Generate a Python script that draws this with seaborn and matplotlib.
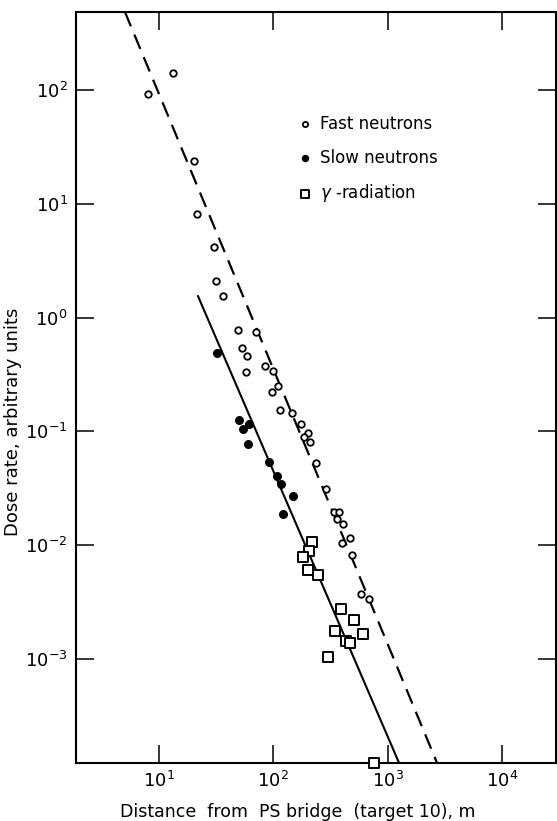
import numpy as np
import pandas as pd
import matplotlib
matplotlib.use("Agg")
import matplotlib.pyplot as plt
import seaborn as sns

# values (distance in m, dose rate in arbitrary units)
fast_x = [7.96, 13.3, 20.4, 21.4, 30.1, 31.8, 36.1, 48.9, 70.6, 53.6, 58.9, 58.1,
          84.5, 99.4, 110.6, 96.9, 114.5, 146.6, 175.8, 201.5, 185.8, 209.5, 233.9,
          289, 336.5, 373.6, 358.9, 407.6, 472, 401.8, 483, 582, 687]
fast_y = [92.8, 140, 23.9, 8.09, 4.15, 2.10, 1.54, 0.778, 0.743, 0.537, 0.460, 0.331,
          0.376, 0.340, 0.251, 0.222, 0.153, 0.146, 0.116, 0.0959, 0.0884, 0.0811,
          0.0531, 0.031, 0.0194, 0.0197, 0.0169, 0.0153, 0.0116, 0.0104, 0.00826,
          0.00371, 0.00335]

slow_x = [32.4, 50.1, 54.7, 61.1, 60.4, 92.3, 107.1, 116.7, 149.6, 120.3]
slow_y = [0.485, 0.126, 0.104, 0.115, 0.0771, 0.0538, 0.0409, 0.0344, 0.0272, 0.0187]

gamma_x = [219.3, 206.4, 183, 202.3, 246, 391, 508, 347, 605, 430, 472, 303, 765]
gamma_y = [0.0106, 0.00895, 0.00783, 0.00602, 0.00545, 0.00273, 0.0022, 0.00176,
           0.00166, 0.00145, 0.00137, 0.00105, 1.22e-4]

# fitted lines (end points)
fast_fit_x = [5.04, 2704]
fast_fit_y = [484, 1.22e-4]
slow_fit_x = [21.9, 1259]
slow_fit_y = [1.55, 1.22e-4]

x_ticks = [1e1, 1e2, 1e3, 1e4]
y_ticks = [1e-3, 1e-2, 1e-1, 1e0, 1e1, 1e2]

sns.set_style("ticks")
plt.rcParams['font.family'] = ['DejaVu Sans']
plt.rcParams['mathtext.fontset'] = 'dejavusans'
plt.rcParams.update({'text.color': 'black', 'axes.labelcolor': 'black',
                     'xtick.color': 'black', 'ytick.color': 'black'})

fig = plt.figure(figsize=(5.57, 8.21), dpi=100)
ax = fig.add_axes([0.1364, 0.0706, 0.8618, 0.9148])
ax.set_xscale("log")
ax.set_yscale("log")

sns.lineplot(x=fast_fit_x, y=fast_fit_y, ax=ax, color="black", lw=1.6,
             linestyle=(0, (7, 4)), estimator=None, sort=False)
sns.lineplot(x=slow_fit_x, y=slow_fit_y, ax=ax, color="black", lw=1.5,
             estimator=None, sort=False)

sns.scatterplot(x=fast_x, y=fast_y, ax=ax, marker="o", s=22, facecolor="white",
                edgecolor="black", linewidth=1.3, label="Fast neutrons", zorder=3)
sns.scatterplot(x=slow_x, y=slow_y, ax=ax, marker="o", s=32, color="black",
                edgecolor="black", linewidth=0.8, label="Slow neutrons", zorder=3)
sns.scatterplot(x=gamma_x, y=gamma_y, ax=ax, marker="s", s=55, facecolor="white",
                edgecolor="black", linewidth=1.4, label="$\\gamma$ -radiation",
                zorder=4, clip_on=False)

ax.set_xlim(1.88, 29650)
ax.set_ylim(1.22e-4, 484)
ax.set_xticks(x_ticks)
ax.set_yticks(y_ticks)
ax.set_xticklabels(["$10^{%d}$" % int(np.log10(v)) for v in x_ticks])
ax.set_yticklabels(["$10^{%d}$" % int(np.log10(v)) for v in y_ticks])
ax.minorticks_off()
ax.tick_params(which="major", direction="in", length=13, width=1.1,
               top=True, right=True, labelsize=13, pad=6, color="black")
for sp in ax.spines.values():
    sp.set_linewidth(1.5)
    sp.set_color("black")

ax.set_ylabel("Dose rate, arbitrary units", fontsize=13)
ax.yaxis.set_label_coords(-0.1125, 0.454)
ax.set_xlabel("Distance  from  PS bridge  (target 10), m", fontsize=12.5)
ax.xaxis.set_label_coords(0.4625, -0.053)

leg = ax.legend(loc="upper left", bbox_to_anchor=(0.45, 0.872), frameon=False,
                fontsize=12, handlelength=0.8, handletextpad=0.5, labelspacing=0.95,
                borderaxespad=0, markerscale=0.8)

fig.savefig("out.png", dpi=100)
